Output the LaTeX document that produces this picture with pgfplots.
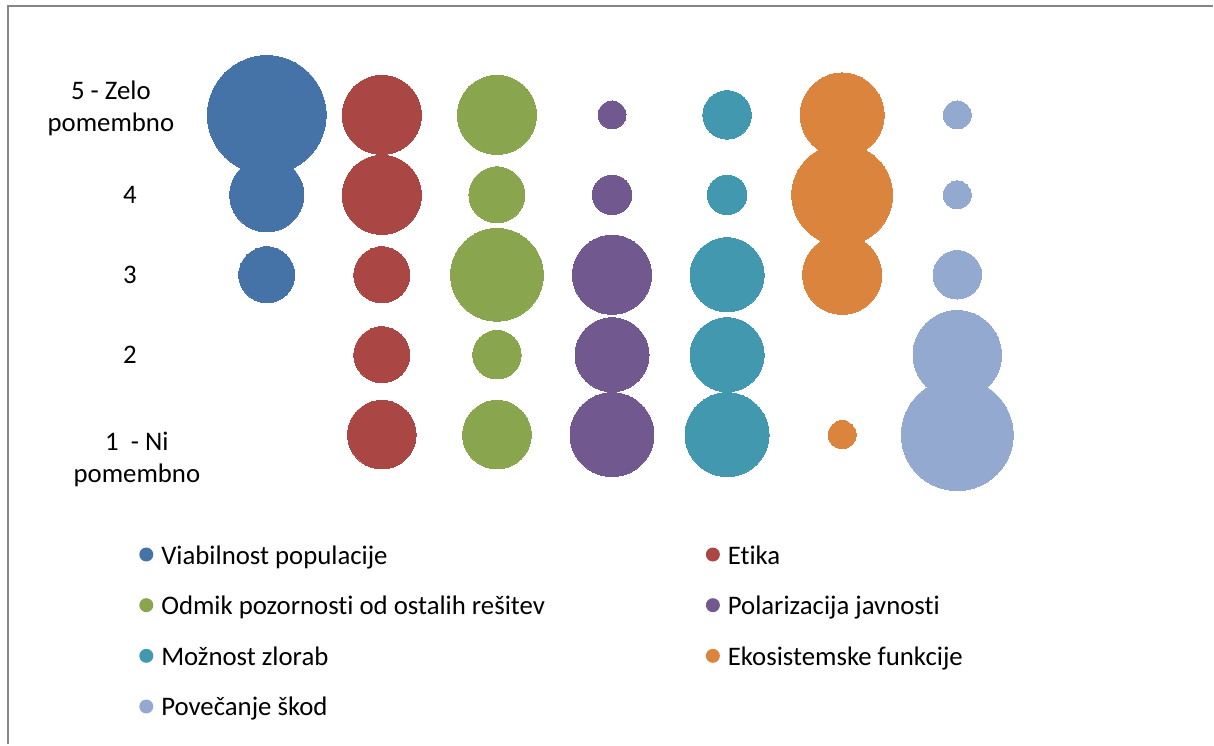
\documentclass[border=0pt]{standalone}
\usepackage{pgfplots}
\pgfplotsset{compat=1.18}
\usepackage{pgfplotstable}
\usepackage{fontspec}
\setmainfont{Carlito}[Ligatures=NoCommon]
\definecolor{c1}{HTML}{4572A7}
\definecolor{c2}{HTML}{AA4643}
\definecolor{c3}{HTML}{89A54E}
\definecolor{c4}{HTML}{71588F}
\definecolor{c5}{HTML}{4198AF}
\definecolor{c6}{HTML}{DB843D}
\definecolor{c7}{HTML}{93A9CF}
\definecolor{frame}{HTML}{868686}
\newcommand\lbl[4]{\hspace*{#1}\raisebox{#2}[\height][\depth]{\begin{tabular}{@{}#3@{}}#4\end{tabular}}}
\pgfplotstableread{
x y n
1 5 18
1 4 7
1 3 4
}\tA
\pgfplotstableread{
x y n
2 5 8
2 4 8
2 3 4
2 2 4
2 1 6
}\tB
\pgfplotstableread{
x y n
3 5 8
3 4 4
3 3 11
3 2 3
3 1 6
}\tC
\pgfplotstableread{
x y n
4 5 1
4 4 2
4 3 8
4 2 7
4 1 9
}\tD
\pgfplotstableread{
x y n
5 5 3
5 4 2
5 3 7
5 2 7
5 1 9
}\tE
\pgfplotstableread{
x y n
6 5 9
6 4 13
6 3 8
6 1 1
}\tF
\pgfplotstableread{
x y n
7 5 1
7 4 1
7 3 3
7 2 10
7 1 16
}\tG
\pgfplotsset{bub/.style={scatter, only marks, mark=*,
  point meta=\thisrow{n},
  scatter/use mapped color={draw=#1, fill=#1},
  line width=0pt,
  visualization depends on={7*sqrt(\thisrow{n}) \as \msize},
  scatter/@pre marker code/.append style={/tikz/mark size=\msize},
  forget plot}}
\begin{document}
\begin{tikzpicture}
\begin{axis}[
  scale only axis, width=607pt, height=372.5pt,
  xmin=-1.318, xmax=9.223, ymin=-2.875, ymax=6.4375,
  clip=false,
  axis line style={draw=none}, tick style={draw=none},
  xtick=\empty,
  ytick={2,3,4,5},
  yticklabels={2,3,4,{\lbl{-19pt}{3pt}{c}{5 - Zelo\\pomembno}}},
  extra y ticks={1},
  extra y tick labels={{\lbl{7pt}{-12.5pt}{c}{1~~- Ni\\pomembno}}},
  yticklabel style={anchor=center, xshift=65pt, font=\fontsize{13.4}{16}\selectfont},
  legend columns=2,
  legend cell align=left,
  legend image code/.code={\fill[#1, draw=none] (0pt,1.5pt) circle (3.5pt);},
  legend style={draw=none, fill=none, inner sep=0pt,
    at={(rel axis cs:0.1145,0.2684)}, anchor=north west,
    font=\fontsize{13.4}{16}\selectfont,
    row sep=12.85pt,
    nodes={inner sep=0pt, text height=9.5pt, text depth=3pt},
    /tikz/every odd column/.append style={column sep=4pt},
    /tikz/column 2/.append style={column sep=80.5pt}},
]
\addplot[bub=c1] table {\tA};
\addplot[bub=c2] table {\tB};
\addplot[bub=c3] table {\tC};
\addplot[bub=c4] table {\tD};
\addplot[bub=c5] table {\tE};
\addplot[bub=c6] table {\tF};
\addplot[bub=c7] table {\tG};
\addlegendimage{c1}\addlegendentry{Viabilnost populacije}
\addlegendimage{c2}\addlegendentry{Etika}
\addlegendimage{c3}\addlegendentry{Odmik pozornosti od ostalih rešitev}
\addlegendimage{c4}\addlegendentry{Polarizacija javnosti}
\addlegendimage{c5}\addlegendentry{Možnost zlorab}
\addlegendimage{c6}\addlegendentry{Ekosistemske funkcije}
\addlegendimage{c7}\addlegendentry{Povečanje škod}
\draw[frame, line width=0.9pt] (rel axis cs:0.0066,0) |- (rel axis cs:1,0.9919);
\end{axis}
\end{tikzpicture}
\end{document}
